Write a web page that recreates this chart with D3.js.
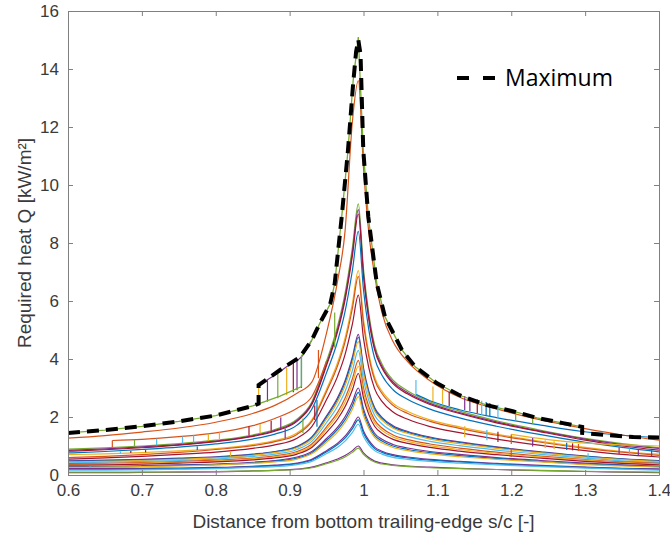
<!DOCTYPE html>
<html>
<head>
<meta charset="utf-8">
<script src="https://cdn.jsdelivr.net/npm/d3@7"></script>
<style>
  body { margin: 0; background: #fff; }
  svg text { font-family: "Liberation Sans", Arial, sans-serif; }
</style>
</head>
<body>
<svg id="chart" width="670" height="536"></svg>
<script>
"use strict";

// Required heat along the surface, one curve per case

// shared s/c grid for the smooth curves
const sc = [0.6, 0.65, 0.7, 0.75, 0.8, 0.85, 0.88, 0.91, 0.93, 0.95, 0.965, 0.975, 0.985, 0.993,
            1.0, 1.007, 1.015, 1.025, 1.04, 1.06, 1.09, 1.13, 1.18, 1.24, 1.3, 1.35, 1.4];

// Q values [kW/m²] for each curve on the grid above
const qA = [1.27, 1.36, 1.48, 1.62, 1.82, 2.12, 2.4, 2.82, 3.2, 4.9, 6.7, 8.4, 12.2, 13.6, 10.6, 8.4, 6.9, 5.6, 4.6, 3.9, 3.25, 2.68, 2.28, 1.9, 1.6, 1.38, 1.2];
const qB = [0.89, 0.94, 1.0, 1.08, 1.2, 1.38, 1.57, 1.92, 2.52, 3.93, 5.14, 6.26, 7.85, 9.35, 7.1, 5.61, 4.49, 3.83, 3.27, 2.9, 2.52, 2.2, 1.87, 1.54, 1.26, 1.08, 0.94];
const qC = [0.85, 0.9, 0.97, 1.05, 1.17, 1.35, 1.54, 1.88, 2.47, 3.84, 5.03, 6.13, 7.69, 9.15, 6.95, 5.49, 4.39, 3.75, 3.2, 2.84, 2.47, 2.15, 1.83, 1.51, 1.24, 1.05, 0.92];
const qD = [0.82, 0.87, 0.94, 1.03, 1.15, 1.33, 1.51, 1.85, 2.43, 3.78, 4.95, 6.03, 7.56, 9.0, 6.84, 5.4, 4.32, 3.69, 3.15, 2.79, 2.43, 2.12, 1.8, 1.49, 1.2, 1.0, 0.86];
const qE = [0.76, 0.81, 0.88, 0.96, 1.07, 1.24, 1.41, 1.72, 2.27, 3.53, 4.62, 5.63, 7.06, 8.4, 6.38, 5.04, 4.03, 3.44, 2.94, 2.6, 2.27, 1.97, 1.68, 1.39, 1.13, 0.95, 0.8];
const qF = [0.7, 0.73, 0.77, 0.83, 0.91, 1.05, 1.19, 1.45, 1.9, 2.96, 3.88, 4.72, 5.92, 7.05, 5.36, 4.23, 3.38, 2.89, 2.47, 2.19, 1.9, 1.66, 1.41, 1.16, 0.95, 0.81, 0.72];
const qG = [0.6, 0.64, 0.7, 0.78, 0.88, 1.01, 1.15, 1.4, 1.85, 2.88, 3.77, 4.59, 5.75, 6.85, 5.21, 4.11, 3.29, 2.81, 2.4, 2.12, 1.85, 1.61, 1.37, 1.13, 0.92, 0.79, 0.68];
const qH = [0.55, 0.59, 0.64, 0.71, 0.79, 0.92, 1.04, 1.27, 1.67, 2.6, 3.41, 4.15, 5.21, 6.2, 4.71, 3.72, 2.98, 2.54, 2.17, 1.92, 1.67, 1.46, 1.24, 1.02, 0.84, 0.71, 0.62];
const qI = [0.49, 0.51, 0.54, 0.58, 0.63, 0.72, 0.81, 0.99, 1.31, 2.04, 2.67, 3.25, 4.07, 4.85, 3.69, 2.91, 2.33, 1.99, 1.7, 1.5, 1.31, 1.14, 0.97, 0.8, 0.65, 0.56, 0.5];
const qJ = [0.47, 0.49, 0.52, 0.56, 0.61, 0.7, 0.8, 0.97, 1.28, 2.0, 2.61, 3.18, 3.99, 4.75, 3.61, 2.85, 2.28, 1.95, 1.66, 1.47, 1.28, 1.12, 0.95, 0.78, 0.64, 0.55, 0.48];
const qK = [0.45, 0.47, 0.5, 0.54, 0.59, 0.68, 0.77, 0.94, 1.24, 1.93, 2.53, 3.08, 3.86, 4.6, 3.5, 2.76, 2.21, 1.89, 1.61, 1.43, 1.24, 1.08, 0.92, 0.76, 0.62, 0.53, 0.46];
const qL = [0.42, 0.44, 0.47, 0.5, 0.55, 0.64, 0.72, 0.88, 1.16, 1.81, 2.37, 2.88, 3.61, 4.3, 3.27, 2.58, 2.06, 1.76, 1.5, 1.33, 1.16, 1.01, 0.86, 0.71, 0.58, 0.49, 0.43];
const qM = [0.39, 0.4, 0.43, 0.46, 0.51, 0.58, 0.66, 0.81, 1.07, 1.66, 2.17, 2.65, 3.32, 3.95, 3.0, 2.37, 1.9, 1.62, 1.38, 1.22, 1.07, 0.93, 0.79, 0.65, 0.53, 0.45, 0.4];
const qN = [0.36, 0.38, 0.4, 0.44, 0.48, 0.56, 0.63, 0.77, 1.01, 1.58, 2.06, 2.51, 3.15, 3.75, 2.85, 2.25, 1.8, 1.54, 1.31, 1.16, 1.01, 0.88, 0.75, 0.62, 0.51, 0.43, 0.38];
const qO = [0.34, 0.35, 0.37, 0.41, 0.45, 0.52, 0.59, 0.72, 0.95, 1.47, 1.93, 2.35, 2.94, 3.5, 2.66, 2.1, 1.68, 1.44, 1.23, 1.09, 0.95, 0.82, 0.7, 0.58, 0.47, 0.4, 0.35];
const qP = [0.29, 0.3, 0.32, 0.35, 0.38, 0.44, 0.5, 0.62, 0.81, 1.26, 1.65, 2.01, 2.52, 3.0, 2.28, 1.8, 1.44, 1.23, 1.05, 0.93, 0.81, 0.71, 0.6, 0.5, 0.41, 0.35, 0.3];
const qQ = [0.27, 0.28, 0.3, 0.33, 0.36, 0.42, 0.48, 0.58, 0.77, 1.2, 1.57, 1.91, 2.39, 2.85, 2.17, 1.71, 1.37, 1.17, 1.0, 0.88, 0.77, 0.67, 0.57, 0.47, 0.38, 0.33, 0.29];
const qR = [0.26, 0.27, 0.29, 0.31, 0.35, 0.4, 0.45, 0.55, 0.73, 1.13, 1.49, 1.81, 2.27, 2.7, 2.05, 1.62, 1.3, 1.11, 0.95, 0.84, 0.73, 0.63, 0.54, 0.45, 0.36, 0.31, 0.27];
const qS = [0.22, 0.22, 0.23, 0.24, 0.26, 0.3, 0.34, 0.41, 0.54, 0.84, 1.1, 1.34, 1.68, 2.0, 1.52, 1.2, 0.96, 0.82, 0.7, 0.62, 0.54, 0.47, 0.4, 0.33, 0.27, 0.23, 0.21];
const qT = [0.19, 0.19, 0.2, 0.22, 0.24, 0.28, 0.32, 0.39, 0.51, 0.8, 1.05, 1.27, 1.6, 1.9, 1.44, 1.14, 0.91, 0.78, 0.67, 0.59, 0.51, 0.45, 0.38, 0.31, 0.26, 0.22, 0.19];
const qU = [0.17, 0.17, 0.18, 0.2, 0.22, 0.26, 0.29, 0.36, 0.47, 0.74, 0.96, 1.17, 1.47, 1.75, 1.33, 1.05, 0.84, 0.72, 0.61, 0.54, 0.47, 0.41, 0.35, 0.29, 0.24, 0.2, 0.17];
const qV = [0.08, 0.08, 0.09, 0.1, 0.11, 0.14, 0.16, 0.2, 0.27, 0.42, 0.55, 0.67, 0.84, 1.0, 0.76, 0.6, 0.48, 0.41, 0.35, 0.31, 0.27, 0.23, 0.19, 0.15, 0.12, 0.1, 0.08];
const qW = [0.1, 0.1, 0.1, 0.11, 0.12, 0.14, 0.16, 0.19, 0.25, 0.39, 0.51, 0.62, 0.78, 0.93, 0.71, 0.56, 0.45, 0.38, 0.33, 0.29, 0.25, 0.22, 0.19, 0.16, 0.13, 0.11, 0.1];

// top curve (jumps up at 0.916)
const topS = [0.6, 0.65, 0.7, 0.75, 0.8, 0.85, 0.887, 0.916, 0.916, 0.93, 0.941, 0.955, 0.961, 0.9705, 0.979, 0.986, 0.993,
              0.9997, 1.0065, 1.018, 1.029, 1.052, 1.07, 1.099, 1.13, 1.167, 1.202, 1.235, 1.27, 1.296];
const topQ = [1.45, 1.55, 1.68, 1.85, 2.05, 2.38, 2.72, 3.05, 4.1, 4.65, 5.24, 5.9, 6.6, 8.9, 11.2, 13.6, 15.1,
              11.2, 8.9, 6.6, 5.46, 4.31, 3.73, 3.17, 2.75, 2.41, 2.2, 1.97, 1.79, 1.66];

// partial branches that other cases jump onto
const upS = [0.858, 0.88, 0.9, 0.916, 0.93];
const upQ = [3.1, 3.45, 3.8, 4.07, 4.65];
const midS = [0.66, 0.7, 0.75, 0.8, 0.85, 0.88, 0.91, 0.93, 0.95];
const midQ = [1.19, 1.23, 1.32, 1.45, 1.7, 1.95, 2.3, 2.7, 3.93];
const rightS = [1.071, 1.09, 1.13, 1.18, 1.24, 1.296, 1.35, 1.4];
const rightQ = [2.78, 2.56, 2.25, 1.98, 1.72, 1.5, 1.37, 1.28];
const tailS = [1.2, 1.25, 1.3, 1.35, 1.4];
const tailQ = [1.4, 1.22, 1.1, 1.04, 1.0];

// jumps between curves: position, Q before, Q after
const stepS = [0.858, 0.87, 0.884, 0.896, 0.905, 0.91, 0.916,
               0.66, 0.69, 0.72, 0.755, 0.77, 0.79, 0.805, 0.845, 0.86, 0.875, 0.888,
               0.63, 0.671, 0.685, 0.705, 0.775, 0.82, 0.894, 0.918, 0.934, 0.937, 0.939, 0.961,
               1.071, 1.094, 1.107, 1.116, 1.137, 1.144, 1.154, 1.16, 1.166, 1.171, 1.182, 1.206, 1.229,
               1.137, 1.167, 1.182, 1.2, 1.229, 1.246, 1.258, 1.275, 1.283, 1.291, 1.346, 1.36, 1.372, 1.39, 1.2, 1.304];
const stepFrom = [2.46, 2.53, 2.65, 2.76, 2.85, 2.92, 3.0,
                  0.95, 0.99, 1.03, 1.09, 1.12, 1.17, 1.21, 1.36, 1.43, 1.53, 1.62,
                  0.24, 0.74, 0.76, 0.78, 0.86, 0.64, 1.25, 1.45, 1.9, 1.66, 3.34, 4.4,
                  3.28, 3.05, 2.95, 2.88, 2.72, 2.68, 2.6, 2.56, 2.52, 2.48, 2.42, 2.24, 2.06,
                  1.68, 1.55, 1.49, 1.40, 1.28, 1.2, 1.16, 1.11, 1.09, 1.07, 0.95, 0.92, 0.89, 0.85, 0.93, 0.75];
const stepTo = [3.1, 3.3, 3.5, 3.7, 3.86, 3.95, 4.07,
                1.19, 1.22, 1.26, 1.33, 1.37, 1.42, 1.47, 1.68, 1.76, 1.87, 1.98,
                0.3, 0.81, 0.83, 0.86, 0.98, 0.8, 1.6, 1.95, 2.4, 2.59, 4.31, 5.6,
                2.78, 2.55, 2.45, 2.38, 2.24, 2.2, 2.13, 2.09, 2.06, 2.03, 1.97, 1.87, 1.77,
                1.30, 1.20, 1.14, 1.07, 0.98, 0.93, 0.9, 0.86, 0.85, 0.83, 0.72, 0.7, 0.68, 0.64, 0.62, 0.55];

// envelope of all cases
const maxS = [0.6, 0.65, 0.7, 0.75, 0.8, 0.85, 0.858, 0.858, 0.887, 0.914, 0.93, 0.941, 0.955, 0.961, 0.9705, 0.979,
              0.986, 0.99, 0.993, 0.996, 0.9997, 1.0065, 1.018, 1.029, 1.052, 1.07, 1.099, 1.13, 1.167, 1.202,
              1.235, 1.27, 1.296, 1.296, 1.33, 1.365, 1.4];
const maxQ = [1.45, 1.55, 1.68, 1.85, 2.05, 2.38, 2.46, 3.1, 3.62, 4.07, 4.65, 5.24, 5.9, 6.6, 8.9, 11.2,
              13.5, 14.6, 15.0, 14.5, 11.2, 8.9, 6.6, 5.46, 4.31, 3.73, 3.17, 2.75, 2.41, 2.2,
              1.97, 1.79, 1.66, 1.45, 1.38, 1.31, 1.29];

const xTicks = [0.6, 0.7, 0.8, 0.9, 1.0, 1.1, 1.2, 1.3, 1.4];
const yTicks = [0, 2, 4, 6, 8, 10, 12, 14, 16];

// MATLAB default line colours
const palette = ["#0072BD", "#D95319", "#EDB120", "#7E2F8E", "#77AC30", "#4DBEEE", "#A2142F"];

const curves = [qA, qB, qC, qD, qE, qF, qG, qH, qI, qJ, qK, qL, qM, qN, qO, qP, qQ, qR, qS, qT, qU, qV, qW];
const curveColor = [1, 4, 3, 6, 0, 2, 1, 6, 3, 0, 2, 5, 1, 2, 6, 3, 0, 2, 3, 0, 5, 3, 4];
const stepColor = [2, 3, 4, 2, 6, 3, 0,
                   1, 4, 5, 5, 5, 2, 2, 6, 2, 6, 3,
                   5, 5, 6, 6, 0, 2, 3, 4, 6, 0, 1, 4,
                   5, 2, 2, 6, 3, 3, 6, 5, 0, 0, 5, 4, 4,
                   2, 5, 6, 1, 3, 2, 2, 0, 6, 1, 3, 5, 3, 0, 1, 5];

// layout
const svg = d3.select("#chart");
const margin = { top: 11, right: 11, bottom: 61, left: 68 };
const width = 670 - margin.left - margin.right;
const height = 536 - margin.top - margin.bottom;

const x = d3.scaleLinear().domain([0.6, 1.4]).range([0, width]);
const y = d3.scaleLinear().domain([0, 16]).range([height, 0]);

const g = svg.append("g").attr("transform", `translate(${margin.left},${margin.top})`);

g.append("clipPath").attr("id", "plot")
  .append("rect").attr("width", width).attr("height", height);

const plot = g.append("g").attr("clip-path", "url(#plot)");

const smooth = d3.line()
  .x(d => x(d[0]))
  .y(d => y(d[1]))
  .curve(d3.curveMonotoneX);

const line = d3.line()
  .x(d => x(d[0]))
  .y(d => y(d[1]));

// smooth curves first
curves.forEach((q, i) => {
  plot.append("path")
    .attr("d", smooth(sc.map((s, j) => [s, q[j]])))
    .attr("fill", "none")
    .attr("stroke", palette[curveColor[i]])
    .attr("stroke-width", 1.2);
});

// branches
[[midS, midQ, 1], [rightS, rightQ, 0], [tailS, tailQ, 2], [upS, upQ, 3]].forEach(b => {
  plot.append("path")
    .attr("d", smooth(b[0].map((s, j) => [s, b[1][j]])))
    .attr("fill", "none")
    .attr("stroke", palette[b[2]])
    .attr("stroke-width", 1.2);
});

// vertical jumps
plot.selectAll("line.step")
  .data(stepS)
  .join("line")
  .attr("class", "step")
  .attr("x1", d => x(d))
  .attr("x2", d => x(d))
  .attr("y1", (d, i) => y(stepFrom[i]))
  .attr("y2", (d, i) => y(stepTo[i]))
  .attr("stroke", (d, i) => palette[stepColor[i]])
  .attr("stroke-width", 1.2);

// top curve
plot.append("path")
  .attr("d", line(topS.map((s, j) => [s, topQ[j]])))
  .attr("fill", "none")
  .attr("stroke", palette[4])
  .attr("stroke-width", 1.3);

// maximum envelope, dashed on top
plot.append("path")
  .attr("d", line(maxS.map((s, j) => [s, maxQ[j]])))
  .attr("fill", "none")
  .attr("stroke", "#000")
  .attr("stroke-width", 4)
  .attr("stroke-dasharray", "12 7");

// axes: ticks point inwards on all four sides
const axisColor = "#808080";
const labelColor = "#3a3a3a";

const xAxis = g.append("g")
  .attr("transform", `translate(0,${height})`)
  .call(d3.axisBottom(x).tickValues(xTicks).tickSizeInner(-5).tickSizeOuter(0).tickPadding(9)
    .tickFormat(d => String(+d.toFixed(1))));
const yAxis = g.append("g")
  .call(d3.axisLeft(y).tickValues(yTicks).tickSizeInner(-5).tickSizeOuter(0).tickPadding(9));
const xTop = g.append("g")
  .call(d3.axisTop(x).tickValues(xTicks).tickSizeInner(-5).tickSizeOuter(0).tickFormat(""));
const yRight = g.append("g")
  .attr("transform", `translate(${width},0)`)
  .call(d3.axisRight(y).tickValues(yTicks).tickSizeInner(-5).tickSizeOuter(0).tickFormat(""));

[xAxis, yAxis, xTop, yRight].forEach(a => {
  a.select(".domain").attr("stroke", axisColor);
  a.selectAll(".tick line").attr("stroke", axisColor);
  a.selectAll(".tick text")
    .attr("fill", labelColor)
    .style("font-size", "17px")
    .style("font-family", "'Liberation Sans', Arial, sans-serif");
});

// axis titles
svg.append("text")
  .attr("x", margin.left + width / 2)
  .attr("y", 528)
  .attr("text-anchor", "middle")
  .attr("fill", labelColor)
  .style("font-size", "19px")
  .text("Distance from bottom trailing-edge s/c [-]");

svg.append("text")
  .attr("transform", `translate(31,${margin.top + height / 2}) rotate(-90)`)
  .attr("text-anchor", "middle")
  .attr("fill", labelColor)
  .style("font-size", "19px")
  .text("Required heat Q [kW/m²]");

// legend
const legend = g.append("g").attr("transform", `translate(${457 - margin.left},${78 - margin.top})`);
legend.append("line")
  .attr("x1", 0).attr("x2", 38)
  .attr("stroke", "#000")
  .attr("stroke-width", 4)
  .attr("stroke-dasharray", "12 14");
legend.append("text")
  .attr("x", 48)
  .attr("dy", "0.35em")
  .attr("fill", "#000")
  .style("font-family", "'Open Sans', sans-serif")
  .style("font-size", "23px")
  .text("Maximum");
</script>
</body>
</html>
